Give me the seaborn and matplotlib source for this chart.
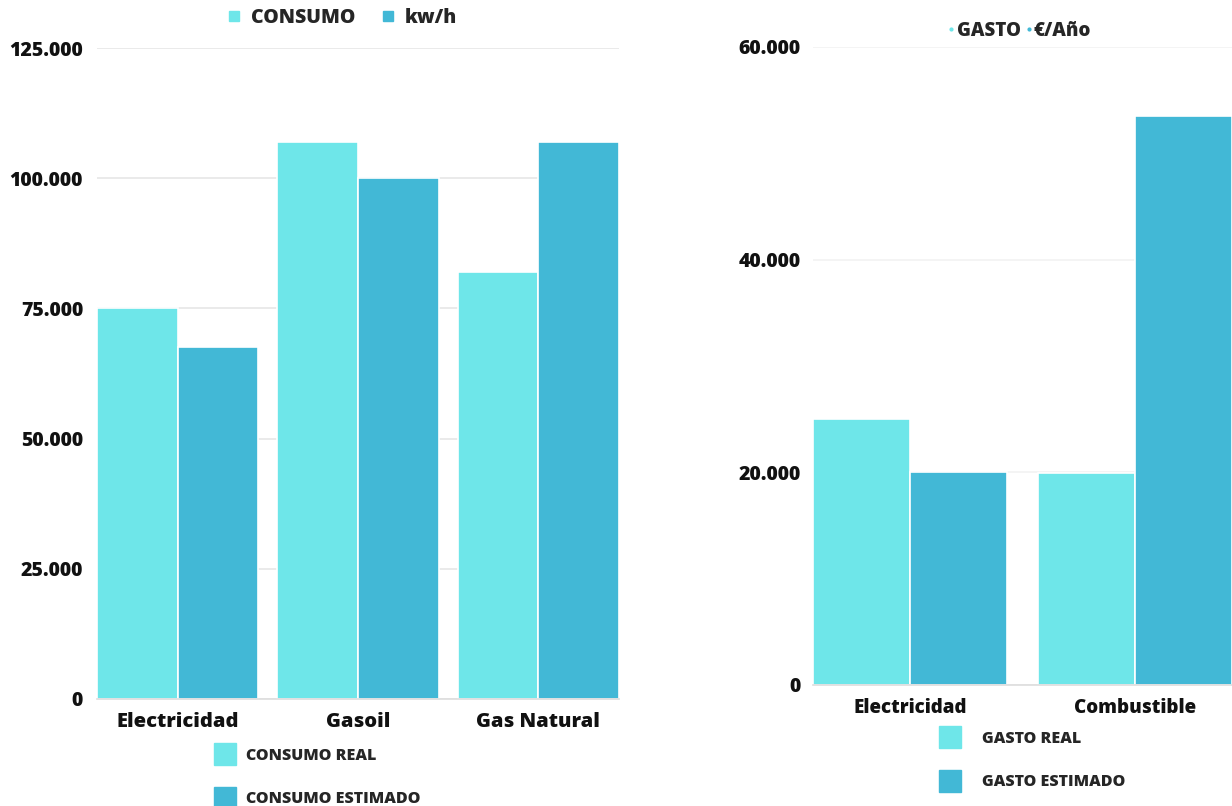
import numpy as np
import pandas as pd
import matplotlib
matplotlib.use("Agg")
import matplotlib.pyplot as plt
import seaborn as sns
from matplotlib.lines import Line2D
from matplotlib.ticker import FuncFormatter

# ---------------- data ----------------
consumo_cats = ["Electricidad", "Gasoil", "Gas Natural"]
consumo_real = [75000, 107000, 82000]
consumo_estimado = [67500, 100000, 107000]
consumo_series = ["CONSUMO REAL", "CONSUMO ESTIMADO"]
consumo_yticks = [0, 25000, 50000, 75000, 100000, 125000]

gasto_cats = ["Electricidad", "Combustible"]
gasto_real = [25000, 19900]
gasto_estimado = [20000, 53500]
gasto_series = ["GASTO REAL", "GASTO ESTIMADO"]
gasto_yticks = [0, 20000, 40000, 60000]

top_legend_left = ["CONSUMO", "kw/h"]
top_legend_right = ["GASTO", "€/Año"]

COL_REAL = "#6EE6E9"
COL_EST = "#42B8D6"
WEIGHT = 800

sns.set_theme(style="white")
plt.rcParams["font.family"] = ["Open Sans", "DejaVu Sans"]
plt.rcParams["font.weight"] = WEIGHT

W, H = 1232, 806
fig = plt.figure(figsize=(W / 100, H / 100), dpi=100)
ax1 = fig.add_axes([97 / W, 1 - 699 / H, (619 - 97) / W, (699 - 48) / H])
ax2 = fig.add_axes([813 / W, 1 - 685 / H, (1232 - 813) / W, (685 - 47) / H])


def fmt(v, _):
    return f"{int(round(v)):,}".replace(",", ".")


def draw(ax, cats, real, est, series, yticks, width, gridcol, ysize, xsize, ypad):
    df = pd.DataFrame({
        "cat": cats + cats,
        "val": real + est,
        "serie": [series[0]] * len(cats) + [series[1]] * len(cats),
    })
    sns.barplot(data=df, x="cat", y="val", hue="serie",
                palette=[COL_REAL, COL_EST], width=width, saturation=1,
                edgecolor="white", linewidth=1.2, ax=ax, legend=False)
    ax.set_xlim(-width / 2, len(cats) - 1 + width / 2)
    ax.set_ylim(0, yticks[-1])
    ax.set_yticks(yticks)
    ax.yaxis.set_major_formatter(FuncFormatter(fmt))
    ax.grid(axis="y", color=gridcol, linewidth=1.2)
    ax.grid(axis="x", visible=False)
    ax.set_axisbelow(True)
    for s in ["top", "right", "left"]:
        ax.spines[s].set_visible(False)
    ax.spines["bottom"].set_color("#dddddd")
    ax.spines["bottom"].set_linewidth(1.2)
    ax.set_xlabel("")
    ax.set_ylabel("")
    ax.tick_params(axis="both", length=0, colors="#111111")
    ax.tick_params(axis="y", pad=ypad, labelsize=ysize)
    ax.tick_params(axis="x", pad=9.5, labelsize=xsize)
    for lab in ax.get_xticklabels() + ax.get_yticklabels():
        lab.set_fontweight(WEIGHT)


draw(ax1, consumo_cats, consumo_real, consumo_estimado, consumo_series,
     consumo_yticks, 0.894, "#e6e6e6", 14, 14.5, 10)
draw(ax2, gasto_cats, gasto_real, gasto_estimado, gasto_series,
     gasto_yticks, 0.862, "#f2f2f2", 14, 13.5, 9)

# top legends
h_top = [Line2D([], [], ls="", marker="s", ms=7, color=COL_REAL),
         Line2D([], [], ls="", marker="s", ms=7, color=COL_EST)]
fig.legend(h_top, top_legend_left, loc="center", bbox_to_anchor=(342 / W, 1 - 18 / H),
           ncol=2, frameon=False, prop={"size": 14, "weight": WEIGHT},
           handlelength=0.7, handletextpad=0.5, columnspacing=1.35, borderpad=0)

h_top2 = [Line2D([], [], ls="", marker="o", ms=2, color=COL_REAL),
          Line2D([], [], ls="", marker="o", ms=2, color=COL_EST)]
fig.legend(h_top2, top_legend_right, loc="center", bbox_to_anchor=(1020 / W, 1 - 31 / H),
           ncol=2, frameon=False, prop={"size": 13.5, "weight": WEIGHT},
           handlelength=0.3, handletextpad=0.12, columnspacing=0.3, borderpad=0)


# bottom legends
def bottom_legend(labels, x, y, textpad):
    hs = [Line2D([], [], ls="", marker="s", ms=16, color=COL_REAL),
          Line2D([], [], ls="", marker="s", ms=16, color=COL_EST)]
    fig.legend(hs, labels, loc="upper left", bbox_to_anchor=(x / W, 1 - y / H),
               frameon=False, prop={"size": 11.5, "weight": WEIGHT},
               handlelength=1.4, handletextpad=textpad, labelspacing=1.7, borderpad=0)


bottom_legend(consumo_series, 206, 740, 0.6)
bottom_legend(gasto_series, 931, 723, 1.3)

fig.savefig("out.png", dpi=100, facecolor="white")
